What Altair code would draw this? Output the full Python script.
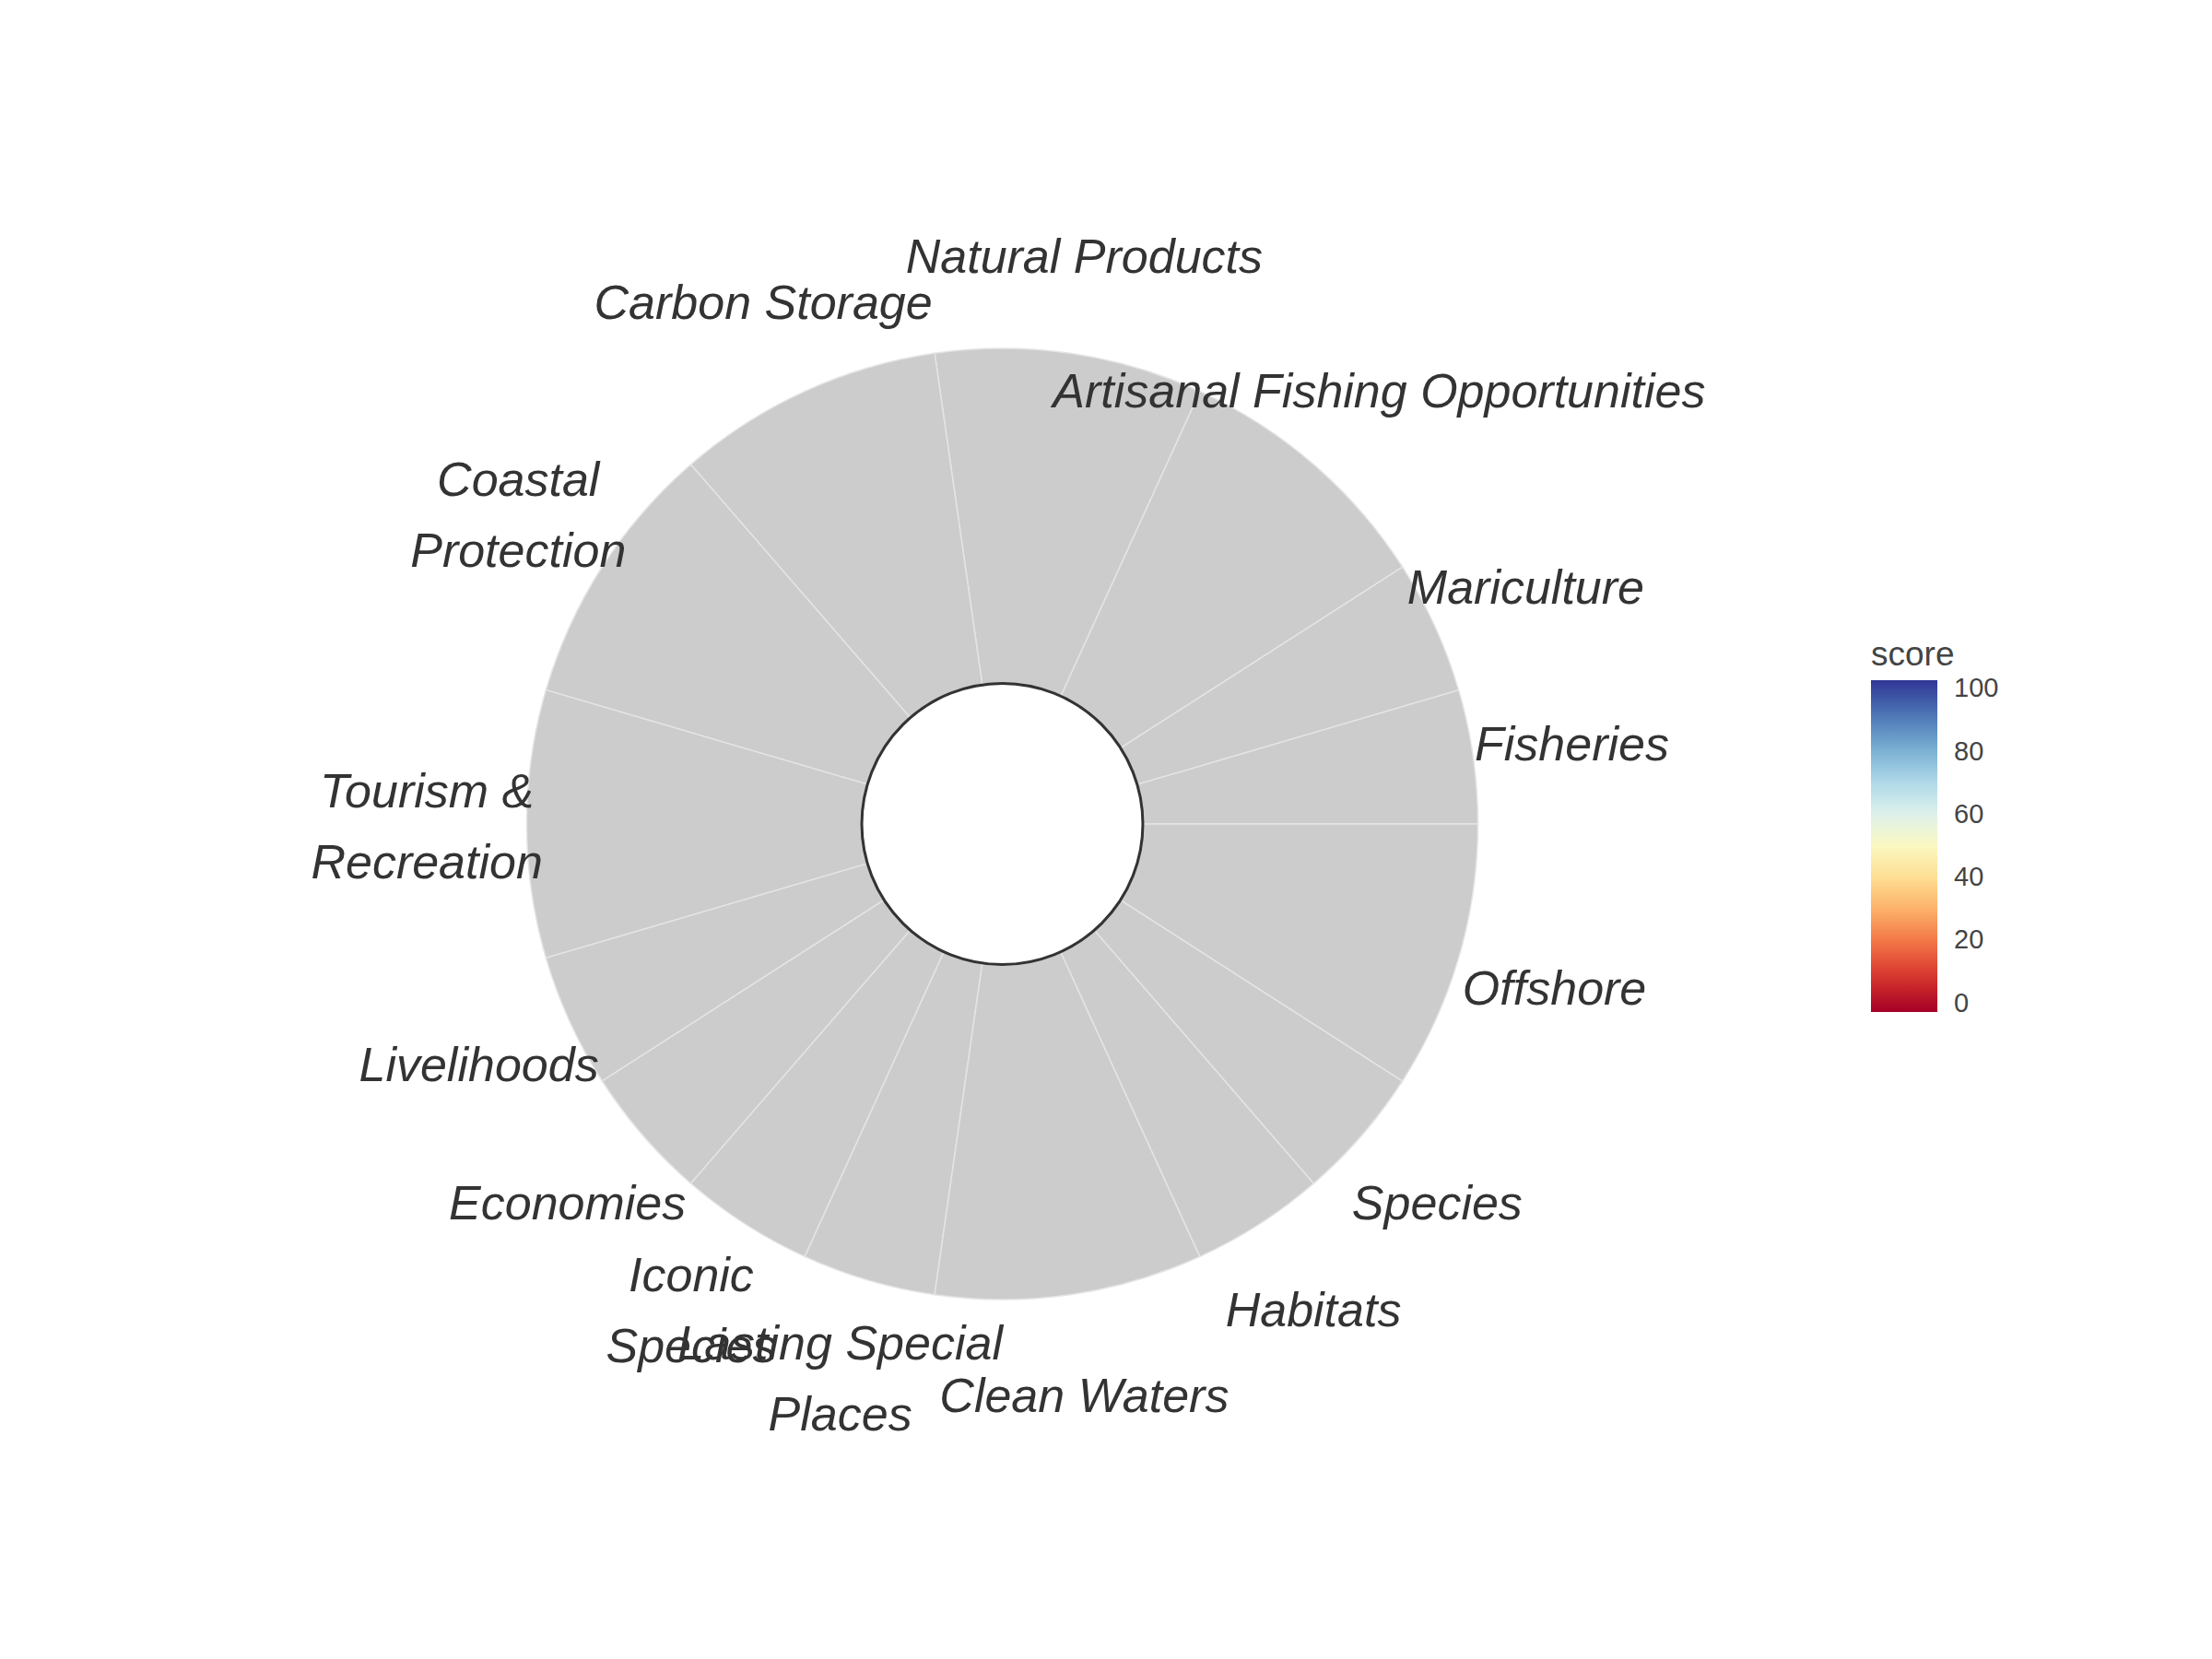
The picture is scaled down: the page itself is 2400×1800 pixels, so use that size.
import math
import altair as alt
import pandas as pd

# ---- data ----
goals = [
    "Fisheries", "Mariculture", "Artisanal Fishing Opportunities",
    "Natural Products", "Carbon Storage", "Coastal\nProtection",
    "Tourism &\nRecreation", "Livelihoods", "Economies", "Iconic\nSpecies",
    "Lasting Special\nPlaces", "Clean Waters", "Habitats", "Species", "Offshore",
]
weights = [0.5, 0.5, 1, 1, 1, 1, 1, 0.5, 0.5, 0.5, 0.5, 1, 0.5, 0.5, 1]
scores = [None] * len(goals)          # no scores available -> grey petals
petal_length = [100] * len(goals)     # NA petals drawn at full length
legend_values = [0, 20, 40, 60, 80, 100]

max_score = 100
hole_fraction = 0.2955
label_fraction = 1.21

# ---- table ----
starts, ends = [], []
acc = 0.0
for w in weights:
    starts.append(acc)
    acc += w
    ends.append(acc)
total = acc

petals = pd.DataFrame({
    "goal": goals,
    "start": starts,
    "end": ends,
    "mid": [(s + e) / 2 for s, e in zip(starts, ends)],
    "length": petal_length,
    "label_r": [max_score * label_fraction] * len(goals),
    "lines": [g.count("\n") + 1 for g in goals],
})
hole_df = pd.DataFrame({"start": [0.0], "end": [total], "r": [max_score * hole_fraction]})
legend_df = pd.DataFrame({"score": legend_values})

CX, CY, R = 1087.5, 894, 516

theta_scale = alt.Scale(domain=[0, total], range=[math.pi / 2, math.pi / 2 - 2 * math.pi])
radius_scale = alt.Scale(type="linear", domain=[0, max_score], range=[0, R], zero=True)

petal_layer = alt.Chart(petals).mark_arc(
    fill="#cccccc", stroke="#e4e4e4", strokeWidth=1.5
).encode(
    theta=alt.Theta("start:Q", stack=None, scale=theta_scale),
    theta2="end:Q",
    radius=alt.Radius("length:Q", scale=radius_scale),
    x=alt.value(CX),
    y=alt.value(CY),
)

hole_layer = alt.Chart(hole_df).mark_arc(
    fill="white", stroke="#333333", strokeWidth=3
).encode(
    theta=alt.Theta("start:Q", stack=None, scale=theta_scale),
    theta2="end:Q",
    radius=alt.Radius("r:Q", scale=radius_scale),
    x=alt.value(CX),
    y=alt.value(CY),
)

text_style = dict(
    font="Liberation Sans", fontStyle="italic", fontSize=52, color="#333333",
    align="center", baseline="middle", lineBreak="\n", lineHeight=77,
)
label_enc = dict(
    theta=alt.Theta("mid:Q", stack=None, scale=theta_scale),
    radius=alt.Radius("label_r:Q", scale=radius_scale),
    text="goal:N",
    x=alt.value(CX),
    y=alt.value(CY),
)

label_single = alt.Chart(petals).transform_filter(
    "datum.lines == 1"
).mark_text(dy=4, **text_style).encode(**label_enc)

label_multi = alt.Chart(petals).transform_filter(
    "datum.lines > 1"
).mark_text(dy=-34, **text_style).encode(**label_enc)

legend_layer = alt.Chart(legend_df).mark_square(opacity=0, size=1).encode(
    x=alt.value(0),
    y=alt.value(0),
    color=alt.Color(
        "score:Q",
        scale=alt.Scale(scheme="redyellowblue", domain=[-2.7, 102.7]),
        legend=alt.Legend(
            type="gradient", orient="none", legendX=2030, legendY=693,
            title="score", titleFont="Liberation Sans", titleFontSize=37,
            titleFontWeight="normal", titleColor="#444444", titlePadding=8,
            values=legend_values, gradientLength=360, gradientThickness=72,
            labelFont="Liberation Sans", labelFontSize=29, labelColor="#444444",
            labelOffset=18, labelOverlap=False, gradientStrokeWidth=0,
            direction="vertical",
        ),
    ),
)

chart = alt.layer(
    petal_layer, hole_layer, label_single, label_multi, legend_layer
).properties(
    width=2400, height=1800, padding=0, autosize=alt.AutoSizeParams(type="none"),
    background="white",
).configure_view(stroke=None)

chart.save("out.html", embed_options={"renderer": "svg", "actions": False})
